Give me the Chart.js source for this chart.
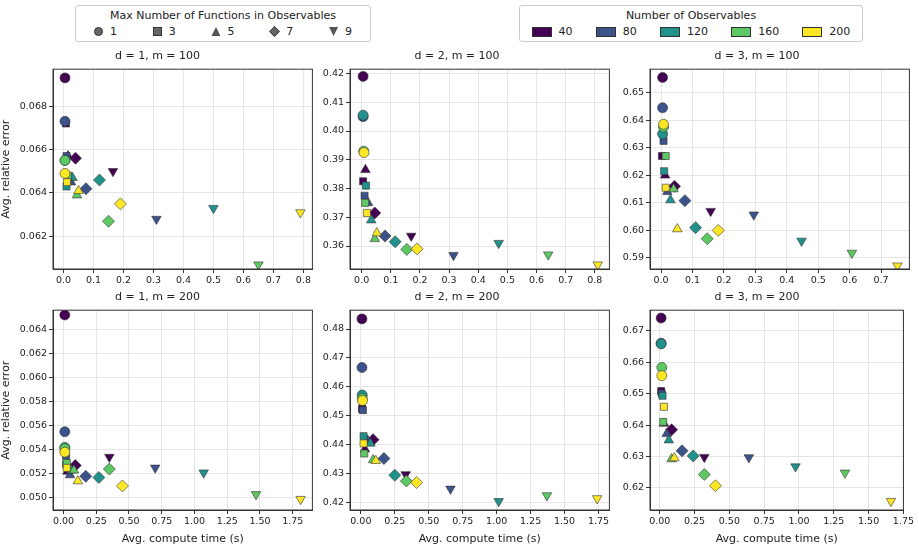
<!DOCTYPE html>
<html>
<head>
<meta charset="utf-8">
<script src="https://cdn.jsdelivr.net/npm/chart.js@4"></script>
<style>
  body { margin: 0; background: #fff; font-family: "DejaVu Sans", sans-serif; color: #222; }
  #wrap { position: relative; width: 919px; height: 547px; }
  canvas { position: absolute; }
  .legend { position: absolute; border: 1px solid #ccc; border-radius: 3px; font-size: 11px; text-align: center; background: #fff; }
  .legend .row { display: flex; justify-content: space-around; align-items: center; margin-top: 3px; }
  .item { display: flex; align-items: center; gap: 7px; }
  .mk { width: 9px; height: 9px; background: #666; border: 1px solid #333; box-sizing: border-box; }
  .sw { width: 20px; height: 10px; border: 1px solid #333; box-sizing: border-box; }
</style>
</head>
<body>
<div id="wrap">
  <div class="legend" style="left:75px;top:5px;width:294px;height:35px;">
    <div style="margin-top:3px">Max Number of Functions in Observables</div>
    <div class="row" id="leg1"></div>
  </div>
  <div class="legend" style="left:519px;top:5px;width:342px;height:35px;">
    <div style="margin-top:3px">Number of Observables</div>
    <div class="row" id="leg2"></div>
  </div>
</div>
<script>
// Legend categories
const funcCounts = [1, 3, 5, 7, 9];
const obsCounts = [40, 80, 120, 160, 200];
const obsColors = ['#440154', '#3b528b', '#21918c', '#5ec962', '#fde725'];
const funcShapes = ['circle', 'rect', 'triangle', 'rectRot', 'triangle'];
const funcRotation = [0, 0, 0, 0, 180];
const funcRadius = [5, 5, 5.5, 6, 5.5];

// Each panel: x[func][obs], y[func][obs]
const p1x = [[0.005,0.005,0.005,0.005,0.005],[0.008,0.01,0.01,0.015,0.012],[0.015,0.025,0.03,0.045,0.05],[0.04,0.075,0.12,0.15,0.19],[0.165,0.31,0.5,0.65,0.79]];
const p1y = [[0.0693,0.0673,0.0655,0.0655,0.0649],[0.0672,0.0657,0.0643,0.0648,0.0645],[0.0657,0.0645,0.0647,0.0639,0.0641],[0.0656,0.0642,0.0646,0.0627,0.0635],[0.0650,0.0628,0.0633,0.0607,0.0631]];
const p2x = [[0.005,0.005,0.005,0.007,0.008],[0.005,0.01,0.015,0.012,0.018],[0.013,0.022,0.033,0.045,0.052],[0.045,0.08,0.115,0.155,0.19],[0.17,0.315,0.47,0.64,0.81]];
const p2y = [[0.419,0.405,0.4055,0.393,0.3925],[0.3825,0.3775,0.381,0.375,0.3715],[0.3865,0.375,0.369,0.3625,0.3645],[0.3715,0.3635,0.3615,0.3588,0.359],[0.3635,0.3568,0.361,0.357,0.3535]];
const p3x = [[0.005,0.005,0.005,0.008,0.008],[0.003,0.008,0.01,0.015,0.015],[0.013,0.02,0.03,0.04,0.052],[0.043,0.076,0.11,0.147,0.182],[0.158,0.295,0.447,0.607,0.752]];
const p3y = [[0.6555,0.6445,0.635,0.6375,0.6385],[0.627,0.6325,0.6215,0.627,0.6155],[0.620,0.614,0.611,0.615,0.6005],[0.616,0.6108,0.601,0.597,0.600],[0.607,0.6057,0.5962,0.5918,0.5872]];
const p4x = [[0.01,0.01,0.01,0.01,0.01],[0.01,0.02,0.02,0.025,0.025],[0.03,0.05,0.06,0.08,0.11],[0.09,0.17,0.27,0.35,0.45],[0.35,0.70,1.07,1.47,1.81]];
const p4y = [[0.0652,0.0555,0.0542,0.0541,0.0538],[0.0539,0.0535,0.0528,0.0529,0.0525],[0.0522,0.0519,0.0523,0.0523,0.0514],[0.0527,0.0518,0.0517,0.0524,0.0510],[0.0534,0.0525,0.0521,0.0503,0.0499]];
const p5x = [[0.008,0.008,0.01,0.01,0.012],[0.008,0.015,0.02,0.025,0.02],[0.03,0.05,0.07,0.09,0.11],[0.09,0.17,0.25,0.335,0.41],[0.33,0.66,1.015,1.37,1.74]];
const p5y = [[0.4835,0.4667,0.4572,0.456,0.4553],[0.4525,0.452,0.443,0.437,0.4405],[0.4385,0.4415,0.4405,0.4348,0.4345],[0.4418,0.4353,0.4295,0.4275,0.427],[0.4298,0.4248,0.4205,0.4225,0.4215]];
const p6x = [[0.01,0.01,0.01,0.015,0.015],[0.01,0.015,0.02,0.025,0.03],[0.03,0.05,0.065,0.085,0.105],[0.085,0.16,0.24,0.32,0.40],[0.32,0.64,0.975,1.33,1.66]];
const p6y = [[0.674,0.666,0.6658,0.6583,0.6557],[0.6508,0.650,0.6493,0.641,0.6458],[0.6405,0.6372,0.6352,0.6292,0.6295],[0.6385,0.6318,0.6302,0.6243,0.6207],[0.6298,0.6297,0.6268,0.6248,0.6158]];

const panels = [
  { title: 'd = 1, m = 100', xs: p1x, ys: p1y, xr: [-0.035, 0.83], yr: [0.0605, 0.0697], xStep: 0.1, yStep: 0.002, xDec: 1, yDec: 3, left: 0, top: 50, row: 0, col: 0 },
  { title: 'd = 2, m = 100', xs: p2x, ys: p2y, xr: [-0.04, 0.85], yr: [0.352, 0.4215], xStep: 0.1, yStep: 0.01, xDec: 1, yDec: 2, left: 302, top: 50, row: 0, col: 1 },
  { title: 'd = 3, m = 100', xs: p3x, ys: p3y, xr: [-0.035, 0.79], yr: [0.586, 0.6585], xStep: 0.1, yStep: 0.01, xDec: 1, yDec: 2, left: 602, top: 50, row: 0, col: 2 },
  { title: 'd = 1, m = 200', xs: p4x, ys: p4y, xr: [-0.08, 1.9], yr: [0.0490, 0.0656], xStep: 0.25, yStep: 0.002, xDec: 2, yDec: 3, left: 0, top: 291, row: 1, col: 0 },
  { title: 'd = 2, m = 200', xs: p5x, ys: p5y, xr: [-0.08, 1.83], yr: [0.4175, 0.4865], xStep: 0.25, yStep: 0.01, xDec: 2, yDec: 2, left: 302, top: 291, row: 1, col: 1 },
  { title: 'd = 3, m = 200', xs: p6x, ys: p6y, xr: [-0.07, 1.75], yr: [0.613, 0.6765], xStep: 0.25, yStep: 0.01, xDec: 2, yDec: 2, left: 602, top: 291, row: 1, col: 2 }
];

Chart.defaults.font.family = '"DejaVu Sans", sans-serif';
Chart.defaults.color = '#222';

const frame = {
  id: 'frame',
  afterDraw(chart) {
    const a = chart.chartArea, c = chart.ctx;
    c.save();
    c.strokeStyle = '#333';
    c.lineWidth = 1;
    c.strokeRect(a.left, a.top, a.right - a.left, a.bottom - a.top);
    c.restore();
  }
};

function stepTicks(min, max, step) {
  const t = [];
  for (let v = Math.ceil(min / step - 1e-9) * step; v <= max + 1e-12; v += step) {
    t.push({ value: Math.round(v * 1e6) / 1e6 });
  }
  return t;
}

const wrap = document.getElementById('wrap');
for (const p of panels) {
  const yw = p.col === 0 ? 53 : 48;
  const xh = p.row === 1 ? 36 : 20;
  const cv = document.createElement('canvas');
  const w = yw + 262 + 4, h = 19 + 200 + xh + 2;
  cv.style.left = p.left + 'px';
  cv.style.top = p.top + 'px';
  cv.style.width = w + 'px';
  cv.style.height = h + 'px';
  wrap.appendChild(cv);

  const datasets = funcCounts.map((f, fi) => ({
    label: String(f),
    data: p.xs[fi].map((x, oi) => ({ x: x, y: p.ys[fi][oi] })),
    pointStyle: funcShapes[fi],
    rotation: funcRotation[fi],
    radius: funcRadius[fi],
    backgroundColor: obsColors,
    borderColor: '#333',
    borderWidth: 0.6
  }));

  new Chart(cv, {
    type: 'scatter',
    data: { datasets },
    plugins: [frame],
    options: {
      responsive: false,
      animation: false,
      layout: { padding: { top: 0, right: 4, bottom: 2, left: 0 } },
      plugins: {
        legend: { display: false },
        tooltip: { enabled: false },
        title: { display: true, text: p.title, font: { size: 11, weight: 'normal' }, color: '#222', padding: { top: 0, bottom: 6 } }
      },
      scales: {
        x: {
          min: p.xr[0], max: p.xr[1],
          afterBuildTicks: s => { s.ticks = stepTicks(p.xr[0], p.xr[1], p.xStep); },
          afterFit: s => { s.height = xh; },
          ticks: { font: { size: 9.5 }, padding: 2, maxRotation: 0, callback: v => v.toFixed(p.xDec) },
          grid: { color: '#e6e6e6', tickColor: '#333', tickLength: 4 },
          border: { color: '#333' },
          title: { display: p.row === 1, text: 'Avg. compute time (s)', font: { size: 11 }, padding: 0 }
        },
        y: {
          min: p.yr[0], max: p.yr[1],
          afterBuildTicks: s => { s.ticks = stepTicks(p.yr[0], p.yr[1], p.yStep); },
          afterFit: s => { s.width = yw; },
          ticks: { font: { size: 9.5 }, padding: 2, callback: v => v.toFixed(p.yDec) },
          grid: { color: '#e6e6e6', tickColor: '#333', tickLength: 4 },
          border: { color: '#333' },
          title: { display: p.col === 0, text: 'Avg. relative error', font: { size: 11 }, padding: 0 }
        }
      }
    }
  });
}

// Legends
const leg1 = document.getElementById('leg1');
const css = ['border-radius:50%', '', 'clip-path:polygon(50% 0,100% 100%,0 100%);background:#555;border:none', 'transform:rotate(45deg) scale(0.85)', 'clip-path:polygon(0 0,100% 0,50% 100%);background:#555;border:none'];
funcCounts.forEach((f, i) => {
  leg1.insertAdjacentHTML('beforeend', `<div class="item"><div class="mk" style="${css[i]}"></div><span>${f}</span></div>`);
});
const leg2 = document.getElementById('leg2');
obsCounts.forEach((o, i) => {
  leg2.insertAdjacentHTML('beforeend', `<div class="item"><div class="sw" style="background:${obsColors[i]}"></div><span>${o}</span></div>`);
});
</script>
</body>
</html>
